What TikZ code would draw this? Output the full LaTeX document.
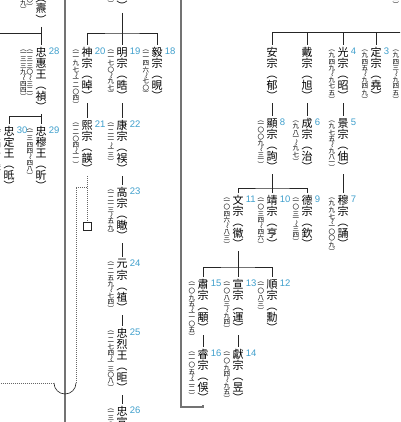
\documentclass[tikz,border=0pt]{standalone}
\usepackage{fontspec}
\usepackage{graphicx}
\newfontfamily\cjk{Noto Sans CJK JP}
\newfontfamily\numfont{Liberation Sans}
\definecolor{numblue}{RGB}{64,160,205}

% vertical text: one cell per character
\newcommand\tate[1]{\vtop{\offinterlineskip\tateloop#1\relax}}
\def\tateloop#1{\ifx\relax#1\else\tateglyph{#1}\expandafter\tateloop\fi}
\def\tatebox#1#2{\hbox to 1em{\hss\vbox to #1{\vss\hbox{#2}\vss}\hss}}
\def\tatert#1{\rotatebox[origin=c]{-90}{#1}}
\def\tateglyph#1{%
  \ifx （#1\tatebox{1em}{\tatert{#1}}%
  \else\ifx ）#1\tatebox{1em}{\tatert{#1}}%
  \else\ifx 〜#1\tatebox{.75em}{\tatert{#1}}%
  \else\ifx 一#1\tatebox{.6em}{#1}%
  \else\tatebox{1em}{#1}\fi\fi\fi\fi}

\begin{document}
\begin{tikzpicture}[x=1pt, y=-1pt,
  king/.style={anchor=north, inner sep=1.5pt, font=\cjk\fontsize{11}{11}\selectfont},
  num/.style={anchor=west, yshift=-6pt, inner sep=0.5pt, text=numblue, font=\numfont\fontsize{9.5}{10}\selectfont},
  reign/.style={anchor=north east, inner sep=0.6pt, font=\cjk\fontsize{6.5}{7}\selectfont},
  kin/.style={black!85, line width=0.6pt},
  colline/.style={black!55, line width=1.1pt},
  dotline/.style={black!60, line width=0.8pt, dash pattern=on 0.8pt off 1.2pt},
  sqbox/.style={draw, black!85, line width=0.6pt, minimum size=8pt, inner sep=0pt}]
  \useasboundingbox[fill=white] (0,0) rectangle (400,422);
  \clip (0,0) rectangle (400,422);

  % left column
  \path (41,27) node(sook27)[king, anchor=south, label={[num]north east:27}, label={[reign]north west:\hbox{\tate{（一三三二〜三九）}\tate{（一三一三〜三〇）}}}]{\tate{忠肅王（燾）}}
    (41,45) node(hye28)[king, label={[num]north east:28}, label={[reign]north west:\hbox{\tate{（一三三九〜四四）}\tate{（一三三〇〜三二）}}}]{\tate{忠惠王（禎）}}
    (41,124) node(mok29)[king, label={[num]north east:29}, label={[reign]north west:\tate{（一三四四〜四八）}}]{\tate{忠穆王（昕）}}
    (9,124) node(jeong30)[king, label={[num]north east:30}, label={[reign]north west:\tate{（一三四八〜五一）}}]{\tate{忠定王（㫝）}};

  % middle column
  \path (122,13) node(ren17)[king, anchor=south, label={[num]north east:17}, label={[reign]north west:\tate{（一一二二〜四六）}}]{\tate{仁宗（楷）}}
    (157,45) node(ui18)[king, label={[num]north east:18}, label={[reign]north west:\tate{（一一四六〜七〇）}}]{\tate{毅宗（晛）}}
    (122,45) node(ming19)[king, label={[num]north east:19}, label={[reign]north west:\tate{（一一七〇〜九七）}}]{\tate{明宗（晧）}}
    (87,45) node(shin20)[king, label={[num]north east:20}, label={[reign]north west:\tate{（一一九七〜一二〇四）}}]{\tate{神宗（晫）}}
    (87,118) node(hee21)[king, label={[num]north east:21}, label={[reign]north west:\tate{（一二〇四〜一一）}}]{\tate{熙宗（韺）}}
    (122,118) node(kang22)[king, label={[num]north east:22}, label={[reign]north west:\tate{（一二一一〜一三）}}]{\tate{康宗（祦）}}
    (122,185) node(go23)[king, label={[num]north east:23}, label={[reign]north west:\tate{（一二一三〜五九）}}]{\tate{高宗（瞮）}}
    (122,257) node(won24)[king, label={[num]north east:24}, label={[reign]north west:\tate{（一二五九〜七四）}}]{\tate{元宗（禃）}}
    (122,326) node(yeol25)[king, label={[num]north east:25}, label={[reign]north west:\tate{（一二七四〜一三〇八）}}]{\tate{忠烈王（昛）}}
    (122,404) node(seon26)[king, label={[num]north east:26}, label={[reign]north west:\tate{（一三〇八〜一三）}}]{\tate{忠宣王（璋）}}
    (87,226) node(sq)[sqbox]{};

  % right column
  \path (407,11) node(taejo1)[king, anchor=south, label={[num]north east:1}, label={[reign]north west:\tate{（九一八〜九四三）}}]{\tate{太祖（建）}}
    (407,45) node(hye2)[king, label={[num]north east:2}, label={[reign]north west:\tate{（九四三〜九四五）}}]{\tate{惠宗（武）}}
    (376,45) node(jeong3)[king, label={[num]north east:3}, label={[reign]north west:\tate{（九四五〜九四九）}}]{\tate{定宗（堯）}}
    (343,45) node(gwang4)[king, label={[num]north east:4}, label={[reign]north west:\tate{（九四九〜九七五）}}]{\tate{光宗（昭）}}
    (307,45) node(dae)[king]{\tate{戴宗（旭）}}
    (272,45) node(an)[king]{\tate{安宗（郁）}}
    (343,116) node(gyeong5)[king, label={[num]north east:5}, label={[reign]north west:\tate{（九七五〜九八一）}}]{\tate{景宗（伷）}}
    (307,116) node(seong6)[king, label={[num]north east:6}, label={[reign]north west:\tate{（九八一〜九七）}}]{\tate{成宗（治）}}
    (272,116) node(hyeon8)[king, label={[num]north east:8}, label={[reign]north west:\tate{（一〇〇九〜三一）}}]{\tate{顯宗（詢）}}
    (343,193) node(mok7)[king, label={[num]north east:7}, label={[reign]north west:\tate{（九九七〜一〇〇九）}}]{\tate{穆宗（誦）}}
    (307,193) node(deok9)[king, label={[num]north east:9}, label={[reign]north west:\tate{（一〇三一〜三四）}}]{\tate{德宗（欽）}}
    (272,193) node(jeong10)[king, label={[num]north east:10}, label={[reign]north west:\tate{（一〇三四〜四六）}}]{\tate{靖宗（亨）}}
    (238,193) node(mun11)[king, label={[num]north east:11}, label={[reign]north west:\tate{（一〇四六〜八三）}}]{\tate{文宗（徽）}}
    (272,277) node(sun12)[king, label={[num]north east:12}, label={[reign]north west:\tate{（一〇八三）}}]{\tate{順宗（勳）}}
    (238,277) node(seon13)[king, label={[num]north east:13}, label={[reign]north west:\tate{（一〇八三〜九四）}}]{\tate{宣宗（運）}}
    (203,277) node(sook15)[king, label={[num]north east:15}, label={[reign]north west:\tate{（一〇九五〜一一〇五）}}]{\tate{肅宗（顒）}}
    (238,347) node(heon14)[king, label={[num]north east:14}, label={[reign]north west:\tate{（一〇九四〜九五）}}]{\tate{獻宗（昱）}}
    (203,347) node(ye16)[king, label={[num]north east:16}, label={[reign]north west:\tate{（一一〇五〜二二）}}]{\tate{睿宗（俁）}};

  % bars and free ends
  \coordinate (gong) at (-10,33);
  \coordinate (b28) at (41,116);
  \coordinate (b1) at (122,33);
  \coordinate (b0) at (407,32);
  \coordinate (b2) at (272,188);
  \coordinate (b3) at (238,267);
  \coordinate (c65a) at (65,-5);
  \coordinate (c65b) at (65,430);
  \coordinate (c407) at (181,407);
  \coordinate (c181) at (181,-5);
  \coordinate (d1) at (76,187);
  \coordinate (d2) at (76,383);
  \coordinate (d3) at (-5,383);

  \draw [colline] (c65a)--(c65b);
  \draw [colline] (ye16) |- (c407) -- (c181);

  \draw [kin] (sook27)--(hye28)--(mok29);
  \draw [kin] (gong) -- (sook27 |- gong);
  \draw [kin] (jeong30.north) |- (b28);

  \draw [kin] (ren17)--(ming19)--(kang22)--(go23)--(won24)--(yeol25)--(seon26);
  \draw [kin] (shin20.north) |- (b1) -| (ui18.north);
  \draw [kin] (shin20)--(hee21);
  \draw [dotline] (hee21)--(sq);
  \draw [dotline] (hee21 |- d1) -- (d1) -- (d2);
  \draw [kin] (d2) arc[start angle=0, end angle=180, radius=11] coordinate (d4);
  \draw [dotline] (d4) -- (d3);

  \draw [kin] (taejo1)--(hye2);
  \draw [kin] (an.north) |- (b0);
  \draw [kin] (dae.north) -- (dae.north |- b0);
  \draw [kin] (gwang4.north) -- (gwang4.north |- b0);
  \draw [kin] (jeong3.north) -- (jeong3.north |- b0);
  \draw [kin] (an)--(hyeon8)--(jeong10);
  \draw [kin] (dae)--(seong6);
  \draw [kin] (gwang4)--(gyeong5)--(mok7);
  \draw [kin] (mun11.north) |- (b2) -| (deok9.north);
  \draw [kin] (mun11)--(seon13)--(heon14);
  \draw [kin] (sook15.north) |- (b3) -| (sun12.north);
  \draw [kin] (sook15)--(ye16);
\end{tikzpicture}
\end{document}
